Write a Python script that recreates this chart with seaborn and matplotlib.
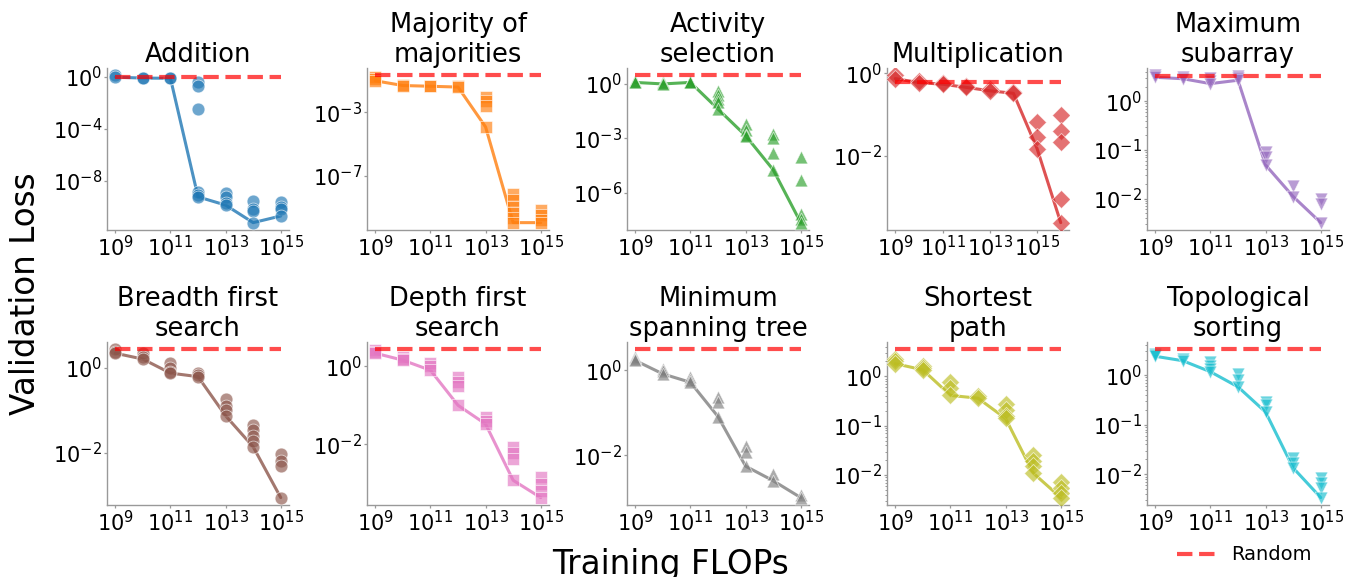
import numpy as np
import pandas as pd
import matplotlib
matplotlib.use("Agg")
import matplotlib.pyplot as plt
import seaborn as sns
from matplotlib.ticker import LogLocator, NullLocator, NullFormatter

# ---------------- data ----------------
TITLES = ["Addition", "Majority of\nmajorities", "Activity\nselection", "Multiplication",
          "Maximum\nsubarray", "Breadth first\nsearch", "Depth first\nsearch",
          "Minimum\nspanning tree", "Shortest\npath", "Topological\nsorting"]

FLOP_EXPONENTS = [9, 10, 11, 12, 13, 14, 15]
MULT_FLOP_EXPONENTS = [9, 10, 11, 12, 13, 14, 15, 16]

# validation losses of the individual runs at each compute budget
ADDITION = [[1.3, 0.95], [0.85, 0.8], [0.82, 0.78],
            [0.37, 0.21, 3.1e-3, 1.3e-9, 8.7e-10, 5.8e-10],
            [1.05e-9, 5.8e-10, 1.8e-10, 1.35e-10],
            [2.7e-10, 7e-11, 4.7e-11, 6e-12],
            [2.3e-10, 1e-10, 6.3e-11, 1.95e-11]]
MAJORITY = [[0.18, 0.13, 0.1], [0.056, 0.05], [0.05, 0.045], [0.045, 0.04],
            [0.01, 4.9e-3, 2.4e-3, 1.2e-4],
            [7e-9, 2.8e-9, 1e-9, 4e-10, 2e-10, 1.05e-10],
            [6.5e-10, 3.2e-10, 1.55e-10, 1.05e-10]]
ACTIVITY = [[1.4, 1.25, 1.15], [1.25, 1.05, 0.95], [1.25, 1.2, 1.15],
            [0.4, 0.25, 0.15, 0.1, 0.04],
            [6e-3, 3e-3, 1.6e-3, 1.4e-3],
            [1.7e-3, 1.0e-3, 1.5e-4, 1.9e-5],
            [9.6e-5, 5.4e-6, 7e-8, 3.9e-8, 2.4e-8]]
MULTIPLICATION = [[0.9, 0.75], [0.65, 0.6], [0.6, 0.55], [0.5, 0.46], [0.42, 0.38],
                  [0.36, 0.33], [0.065, 0.028, 0.015],
                  [0.098, 0.041, 0.022, 9.1e-4, 2.4e-4]]
MAX_SUBARRAY = [[3.4, 3.1], [3.2, 2.9], [3.0, 2.6, 2.3], [3.3, 3.0, 2.7],
                [0.092, 0.073, 0.049], [0.018, 0.011], [0.0096, 0.0078, 0.0032]]
BFS = [[2.7, 2.4, 2.2], [2.2, 1.8, 1.6], [1.3, 1.0, 0.8, 0.75], [0.75, 0.68, 0.62],
       [0.19, 0.13, 0.1, 0.075], [0.046, 0.035, 0.025, 0.019, 0.014],
       [0.0095, 0.0064, 0.005, 0.0009]]
DFS = [[2.6, 2.3, 2.2], [1.8, 1.6, 1.45], [1.2, 1.0, 0.8], [0.53, 0.39, 0.32, 0.10],
       [0.05, 0.04, 0.033], [0.0082, 0.0058, 0.0041, 0.00117],
       [0.0014, 0.00093, 0.00062, 0.00042]]
MST = [[2.0, 1.8, 1.7], [1.1, 0.95, 0.82], [0.68, 0.6, 0.52], [0.24, 0.18, 0.081],
       [0.016, 0.012, 0.0055], [0.0035, 0.0025], [0.00115, 0.001]]
SHORTEST_PATH = [[2.2, 2.0, 1.8], [1.6, 1.45, 1.35], [0.77, 0.59, 0.41], [0.40, 0.36],
                 [0.28, 0.21, 0.16, 0.14], [0.026, 0.019, 0.015, 0.011],
                 [0.0071, 0.0056, 0.0044, 0.0035]]
TOPO_SORT = [[2.7, 2.5, 2.4], [2.1, 1.95], [1.8, 1.5, 1.3, 1.17], [1.05, 0.79, 0.58],
             [0.29, 0.25, 0.18], [0.021, 0.017, 0.0135],
             [0.0086, 0.0068, 0.0054, 0.0034]]

RANDOM_LOSS = [0.9, 0.22, 2.8, 0.63, 3.3, 2.7, 2.75, 3.1, 3.5, 3.3]
Y_TICK_EXPONENTS = [[0, -4, -8], [-3, -7], [0, -3, -6], [0, -2], [0, -1, -2],
                    [0, -2], [0, -2], [0, -2], [0, -1, -2], [0, -1, -2]]
X_TICK_EXPONENTS = [9, 11, 13, 15]

SERIES = [ADDITION, MAJORITY, ACTIVITY, MULTIPLICATION, MAX_SUBARRAY,
          BFS, DFS, MST, SHORTEST_PATH, TOPO_SORT]
SERIES_X = [FLOP_EXPONENTS, FLOP_EXPONENTS, FLOP_EXPONENTS, MULT_FLOP_EXPONENTS,
            FLOP_EXPONENTS] + [FLOP_EXPONENTS] * 5

# ---------------- style ----------------
sns.set_style("ticks")
plt.rcParams.update({
    "font.family": ["DejaVu Sans"],
    "axes.edgecolor": "0.6",
    "axes.linewidth": 1.0,
    "xtick.color": "0.6",
    "ytick.color": "0.6",
    "xtick.labelcolor": "black",
    "ytick.labelcolor": "black",
    "xtick.major.size": 2.5,
    "ytick.major.size": 2.5,
    "ytick.minor.size": 1.6,
    "xtick.major.width": 0.9,
    "ytick.major.width": 0.9,
    "ytick.minor.width": 0.7,
    "xtick.major.pad": 1.0,
    "ytick.major.pad": 1.0,
    "xtick.labelsize": 15,
    "ytick.labelsize": 15,
    "axes.titlesize": 18.5,
    "axes.titlepad": 4.5,
    "text.color": "black",
})

COLORS = sns.color_palette("tab10", 10)
MARKERS = ["o", "s", "^", "D", "v", "o", "s", "^", "D", "v"]

W, H = 1349, 577
fig = plt.figure(figsize=(W / 100, H / 100), dpi=100)

col_left = [107 + 260 * i for i in range(5)]
ax_w = 182
rows = [(68, 230), (342, 505)]

for k in range(10):
    r, c = divmod(k, 5)
    top, bot = rows[r]
    ax = fig.add_axes([col_left[c] / W, 1 - bot / H, ax_w / W, (bot - top) / H])
    ax.set_xscale("log")
    ax.set_yscale("log")

    xs, ys = [], []
    for e, vals in zip(SERIES_X[k], SERIES[k]):
        for v in vals:
            xs.append(10.0 ** e)
            ys.append(v)
    df = pd.DataFrame({"flops": xs, "loss": ys})

    sns.lineplot(data=df, x="flops", y="loss", estimator="min", errorbar=None,
                 color=COLORS[k], lw=2.2, alpha=0.8, ax=ax, zorder=2)
    sns.scatterplot(data=df, x="flops", y="loss", marker=MARKERS[k], color=COLORS[k],
                    s=85, alpha=0.65, edgecolor="white", linewidth=0.6, ax=ax, zorder=3)
    xr = [10.0 ** SERIES_X[k][0], 10.0 ** SERIES_X[k][-1]]
    ax.plot(xr, [RANDOM_LOSS[k]] * 2, ls="--", color="red", alpha=0.7, lw=3,
            zorder=4, label="Random" if k == 0 else None)

    ax.set_xticks([10.0 ** e for e in X_TICK_EXPONENTS])
    ax.xaxis.set_minor_locator(NullLocator())
    yt = Y_TICK_EXPONENTS[k]
    ax.set_yticks([10.0 ** e for e in yt])
    if len(yt) > 1 and abs(yt[0] - yt[1]) == 1:
        ax.yaxis.set_minor_locator(LogLocator(base=10, subs=np.arange(2, 10), numticks=50))
    else:
        ax.yaxis.set_minor_locator(NullLocator())
    ax.yaxis.set_minor_formatter(NullFormatter())
    ax.set_xlabel("")
    ax.set_ylabel("")
    ax.set_title(TITLES[k])
    sns.despine(ax=ax)
    if k == 0:
        handles, labels = ax.get_legend_handles_labels()

fig.text(670 / W, 3 / H, "Training FLOPs", ha="center", va="baseline", fontsize=23.5)
fig.text(26 / W, 1 - 294 / H, "Validation Loss", ha="center", va="center",
         rotation=90, fontsize=23.5)
fig.legend(handles, labels, loc="center left", bbox_to_anchor=(1177 / W, 1 - 555 / H),
           frameon=False, borderpad=0, borderaxespad=0, fontsize=14)

fig.savefig("out.png", dpi=100)
